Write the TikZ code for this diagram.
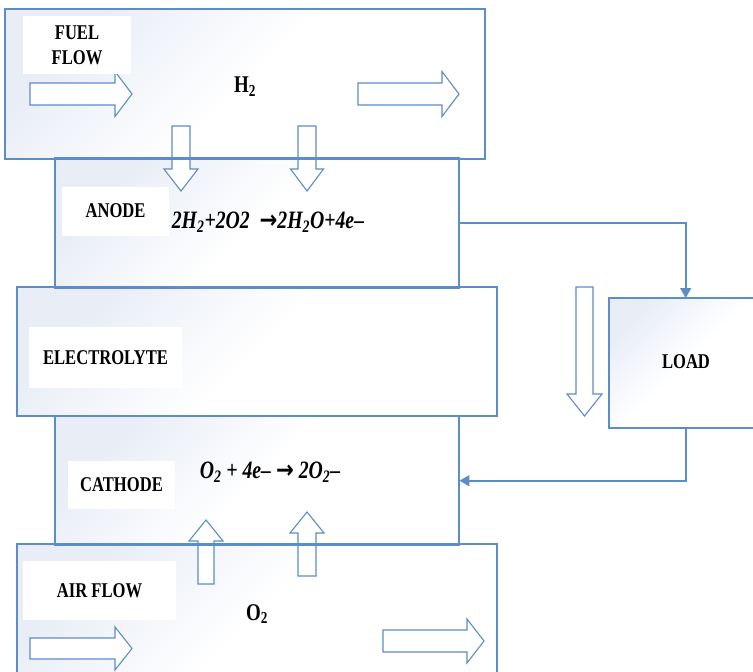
\documentclass[tikz,border=0pt]{standalone}
\usepackage{fontspec}
\setmainfont{Liberation Serif}[FakeStretch=0.79]
\newfontfamily\arrowfont{DejaVu Sans}[FakeStretch=0.85]
\usetikzlibrary{arrows.meta}
\definecolor{edge}{RGB}{92,141,201}
\definecolor{tint}{RGB}{232,237,246}

% block arrow pointing right: x-start, x-head, x-tip, y-centre, half shaft, half head
\newcommand{\hblock}[6]{%
  \draw[blockarrow] (#1,{#4-#5}) -- (#2,{#4-#5}) -- (#2,{#4-#6}) -- (#3,#4)
    -- (#2,{#4+#6}) -- (#2,{#4+#5}) -- (#1,{#4+#5}) -- cycle;}
% block arrow pointing up or down: x-centre, y-start, y-head, y-tip, half shaft, half head
\newcommand{\vblock}[6]{%
  \draw[blockarrow] ({#1-#5},#2) -- ({#1-#5},#3) -- ({#1-#6},#3) -- (#1,#4)
    -- ({#1+#6},#3) -- ({#1+#5},#3) -- ({#1+#5},#2) -- cycle;}

\begin{document}
\begin{tikzpicture}[x=1pt,y=-1pt,
  box/.style={draw=edge, line width=1.4pt, top color=tint, bottom color=white,
    middle color=white, shading angle=45, anchor=north west, inner sep=0pt},
  edgeline/.style={draw=edge, line width=1.4pt},
  blockarrow/.style={draw=edge, line width=1.1pt, fill=white},
  lbl/.style={fill=white, inner sep=0pt, align=center,
    font=\bfseries\fontsize{21}{25}\selectfont},
  gas/.style={inner sep=0pt, font=\bfseries\fontsize{24}{26}\selectfont},
  eq/.style={inner sep=0pt, font=\bfseries\itshape\fontsize{25}{28}\selectfont},
  conn/.style={draw=edge, line width=1.6pt, -{Triangle[length=10pt,width=11pt]}}]

\useasboundingbox (0,0) rectangle (753,672);

% cell layers, top to bottom
\node[box, minimum width=479pt, minimum height=149pt] (fuel) at (5,9) {};
\node[box, minimum width=403pt, minimum height=129pt] (anode) at (55,158) {};
\node[box, minimum width=479pt, minimum height=128pt] (electrolyte) at (17,287) {};
\node[box, minimum width=403pt, minimum height=128pt] (cathode) at (55,416) {};
\node[box, minimum width=479pt, minimum height=140pt] (air) at (17,544) {};
\node[box, minimum width=152pt, minimum height=129pt] (load) at (609,298) {};

% flow arrows
\hblock{30}{115}{132}{94}{11}{22.5}
\hblock{358}{442}{459}{94}{11}{22.5}
\vblock{181}{126}{169}{191}{9}{17}
\vblock{307}{126}{169}{191}{9}{16.5}
\vblock{584.5}{287}{394}{416}{8.5}{17.5}
\vblock{206}{584}{541}{520}{8}{17}
\vblock{307}{576}{533}{512}{9}{17}
\hblock{30}{115}{132}{648.5}{10.5}{21.5}
\hblock{383}{467}{484}{641}{11}{22}

% box outlines stay visible through the arrows
\foreach \n in {fuel,anode,electrolyte,cathode,air,load}
  \draw[edgeline] (\n.north west) rectangle (\n.south east);

% labels
\node[lbl, minimum width=108pt, minimum height=58pt] (fuellbl) at (77,45) {FUEL\\FLOW};
\node[gas] (h2) at (245,87) {H\textsubscript{2}};
\node[lbl, minimum width=107pt, minimum height=49pt] (anodelbl) at (115.5,211) {ANODE};
\node[eq] (anodeeq) at (268,222) {2H\textsubscript{2}+2O2\ \ {\arrowfont →}2H\textsubscript{2}O+4e–};
\node[lbl, minimum width=153pt, minimum height=61pt] (electrolbl) at (105.5,357.5) {ELECTROLYTE};
\node[lbl, minimum width=107pt, minimum height=48pt] (cathodelbl) at (121.5,484.5) {CATHODE};
\node[eq] (cathodeeq) at (270,472) {O\textsubscript{2} + 4e– {\arrowfont →} 2O\textsubscript{2}–};
\node[lbl, minimum width=153pt, minimum height=59pt] (airlbl) at (99.5,590.5) {AIR FLOW};
\node[gas] (o2) at (257,614) {O\textsubscript{2}};
\node[inner sep=0pt, font=\bfseries\fontsize{21}{25}\selectfont] (loadlbl) at (686,362) {LOAD};

% external circuit
\draw[conn] (anode.east) -| (load.north);
\draw[conn] (load.south) |- (cathode.east);
\end{tikzpicture}
\end{document}
